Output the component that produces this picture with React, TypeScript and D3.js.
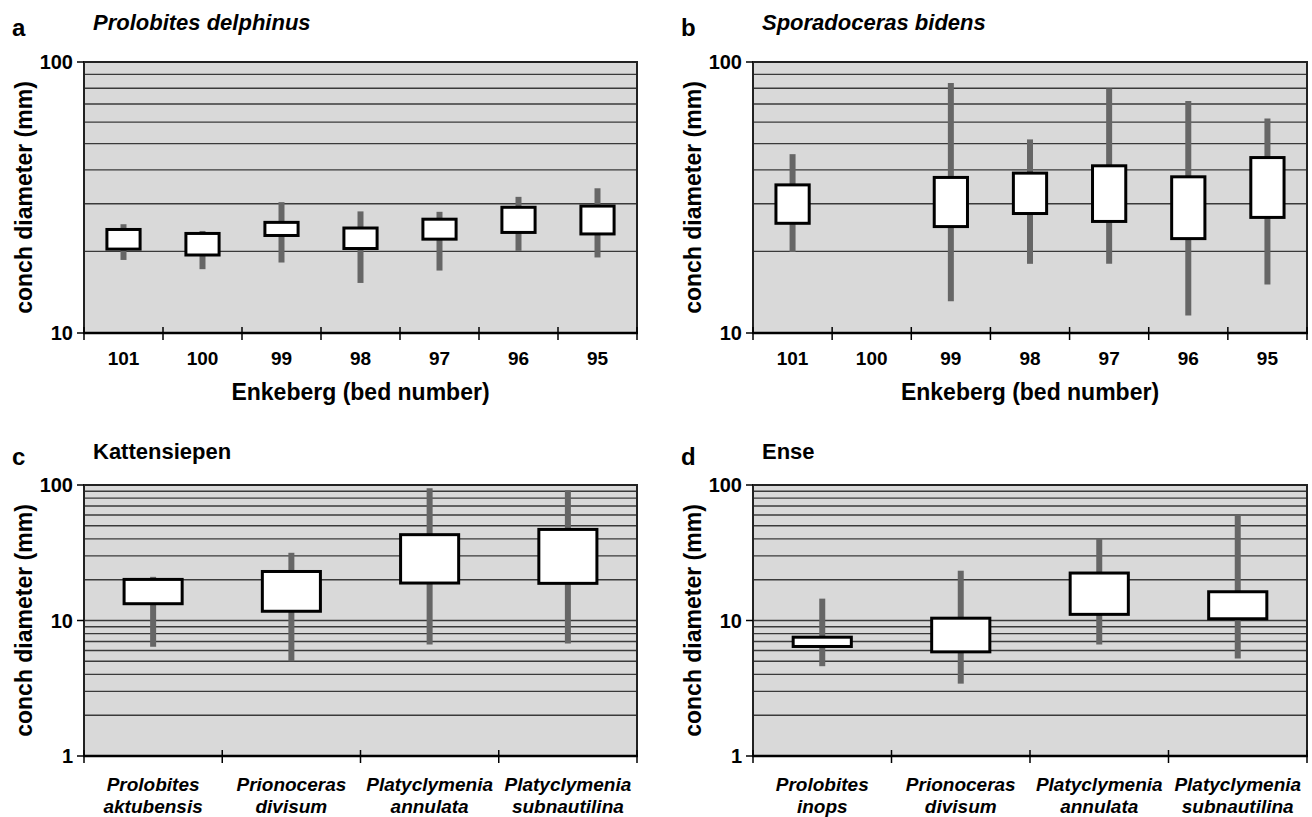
import React from "react";
import * as d3 from "d3";

// panel a: Prolobites delphinus, Enkeberg beds
const bedsA = ["101", "100", "99", "98", "97", "96", "95"];
const minA = [18.6, 17.2, 18.2, 15.3, 17.0, 20.1, 19.0];
const lowA = [20.4, 19.4, 22.9, 20.5, 22.2, 23.5, 23.2];
const highA = [24.1, 23.3, 25.6, 24.4, 26.3, 29.1, 29.4];
const maxA = [25.2, 23.8, 30.4, 28.1, 28.0, 31.8, 34.2];

// panel b: Sporadoceras bidens (no data for bed 100)
const bedsB = ["101", "100", "99", "98", "97", "96", "95"];
const minB = [19.9, null, 13.1, 18.0, 18.0, 11.6, 15.1];
const lowB = [25.4, null, 24.7, 27.6, 25.8, 22.3, 26.7];
const highB = [35.2, null, 37.5, 38.9, 41.4, 37.7, 44.4];
const maxB = [45.7, null, 83.7, 51.8, 79.8, 71.8, 61.9];

// panel c: Kattensiepen
const taxaC = [
  ["Prolobites", "aktubensis"],
  ["Prionoceras", "divisum"],
  ["Platyclymenia", "annulata"],
  ["Platyclymenia", "subnautilina"],
];
const minC = [6.4, 5.0, 6.65, 6.76];
const lowC = [13.3, 11.7, 18.9, 18.8];
const highC = [20.1, 23.0, 43.0, 47.0];
const maxC = [21.0, 31.6, 94.5, 91.3];

// panel d: Ense
const taxaD = [
  ["Prolobites", "inops"],
  ["Prionoceras", "divisum"],
  ["Platyclymenia", "annulata"],
  ["Platyclymenia", "subnautilina"],
];
const minD = [4.6, 3.42, 6.65, 5.24];
const lowD = [6.43, 5.87, 11.1, 10.3];
const highD = [7.53, 10.4, 22.4, 16.3];
const maxD = [14.5, 23.3, 40.4, 59.7];

const FONT = '"Liberation Sans", Arial, Helvetica, sans-serif';

function Panel({ letter, title, italicTitle, cats, mins, lows, highs, maxs, domain, left, top, width, height, xTitle, titleBase }) {
  const bottom = top + height;
  const y = d3.scaleLog().domain(domain).range([bottom, top]);
  const x = d3.scaleBand().domain(cats.map((c, i) => i + "")).range([left, left + width]);
  const boxW = x.bandwidth() * 0.42;
  const grid = y.ticks().filter(v => v > domain[0] * 1.0001 && v < domain[1] * 0.9999);
  const majors = d3.range(Math.log10(domain[0]), Math.log10(domain[1]) + 1).map(e => Math.pow(10, e));
  const bounds = d3.range(cats.length + 1).map(i => left + i * x.step());

  return (
    <g>
      <text x={left - 72} y={titleBase + 6} fontFamily={FONT} fontWeight="bold" fontSize={24}>{letter}</text>
      <text x={left + 9} y={titleBase} fontFamily={FONT} fontWeight="bold" fontSize={22}
        fontStyle={italicTitle ? "italic" : "normal"}>{title}</text>

      <rect x={left} y={top} width={width} height={height} fill="#d9d9d9" />
      {grid.map(v => (
        <line key={v} x1={left} x2={left + width} y1={y(v)} y2={y(v)} stroke="#3a3a3a" strokeWidth={1.4} />
      ))}

      {cats.map((c, i) => {
        if (mins[i] == null) return null;
        const cx = x(i + "") + x.bandwidth() / 2;
        return (
          <g key={i}>
            <line x1={cx} x2={cx} y1={y(mins[i])} y2={y(maxs[i])} stroke="#666" strokeWidth={6} />
            <rect x={cx - boxW / 2} y={y(highs[i])} width={boxW} height={y(lows[i]) - y(highs[i])}
              fill="#fff" stroke="#000" strokeWidth={3} />
          </g>
        );
      })}

      <rect x={left} y={top} width={width} height={height} fill="none" stroke="#222" strokeWidth={2} />
      <line x1={left - 1} x2={left + width + 1} y1={bottom} y2={bottom} stroke="#000" strokeWidth={2.5} />
      {bounds.map((bx, i) => (
        <line key={i} x1={bx} x2={bx} y1={bottom - 6} y2={bottom + 7} stroke="#000" strokeWidth={1.5} />
      ))}
      {majors.map(v => (
        <g key={v}>
          <line x1={left - 7} x2={left} y1={y(v)} y2={y(v)} stroke="#000" strokeWidth={1.5} />
          <text x={left - 11} y={y(v)} dy="0.36em" textAnchor="end" fontFamily={FONT} fontWeight="bold" fontSize={20}>{v}</text>
        </g>
      ))}

      {cats.map((c, i) => {
        const cx = x(i + "") + x.bandwidth() / 2;
        if (c.length === 1) {
          return (
            <text key={i} x={cx} y={bottom + 32} textAnchor="middle" fontFamily={FONT} fontWeight="bold" fontSize={19}>{c[0]}</text>
          );
        }
        return (
          <text key={i} textAnchor="middle" fontFamily={FONT} fontWeight="bold" fontStyle="italic" fontSize={19}>
            <tspan x={cx} y={bottom + 35}>{c[0]}</tspan>
            <tspan x={cx} y={bottom + 57}>{c[1]}</tspan>
          </text>
        );
      })}

      <text transform={`translate(${left - 52},${top + height / 2}) rotate(-90)`} textAnchor="middle"
        fontFamily={FONT} fontWeight="bold" fontSize={23}>conch diameter (mm)</text>
      {xTitle && (
        <text x={left + width / 2} y={bottom + 67} textAnchor="middle" fontFamily={FONT} fontWeight="bold" fontSize={23}>{xTitle}</text>
      )}
    </g>
  );
}

export default function App() {
  const wrap = c => [c];
  return (
    <svg width={1312} height={817} style={{ position: "absolute", left: 0, top: 0, background: "#fff" }}>
      <Panel letter="a" title="Prolobites delphinus" italicTitle cats={bedsA.map(wrap)}
        mins={minA} lows={lowA} highs={highA} maxs={maxA} domain={[10, 100]}
        left={84} top={62} width={553} height={271} xTitle="Enkeberg (bed number)" titleBase={30} />
      <Panel letter="b" title="Sporadoceras bidens" italicTitle cats={bedsB.map(wrap)}
        mins={minB} lows={lowB} highs={highB} maxs={maxB} domain={[10, 100]}
        left={753} top={62} width={554} height={271} xTitle="Enkeberg (bed number)" titleBase={30} />
      <Panel letter="c" title="Kattensiepen" italicTitle={false} cats={taxaC}
        mins={minC} lows={lowC} highs={highC} maxs={maxC} domain={[1, 100]}
        left={84} top={485} width={553} height={271} titleBase={459} />
      <Panel letter="d" title="Ense" italicTitle={false} cats={taxaD}
        mins={minD} lows={lowD} highs={highD} maxs={maxD} domain={[1, 100]}
        left={753} top={485} width={554} height={271} titleBase={459} />
    </svg>
  );
}
